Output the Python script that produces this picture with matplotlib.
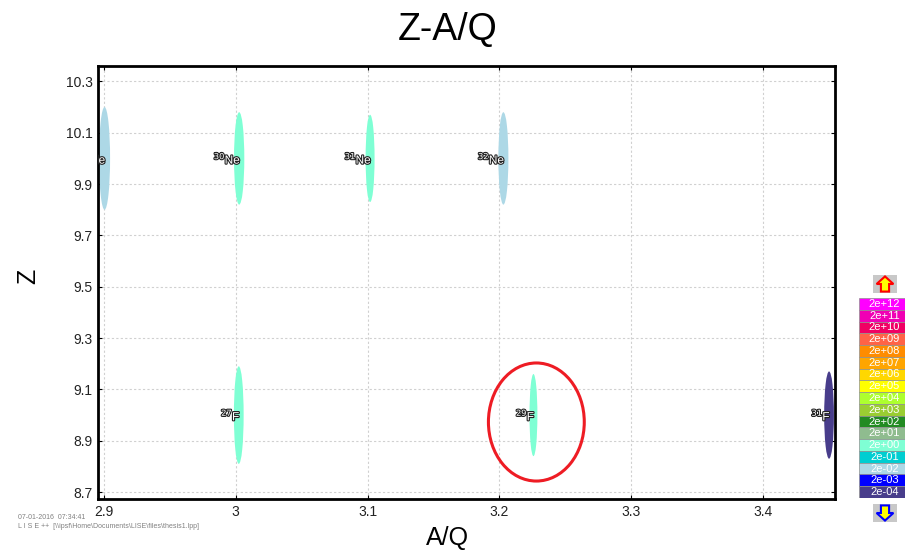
import numpy as np
import matplotlib
matplotlib.use("Agg")
import matplotlib.pyplot as plt
from matplotlib.patches import Ellipse, Polygon
import matplotlib.patheffects as pe

plt.rcParams['font.family'] = ['Liberation Sans', 'DejaVu Sans']

# nuclei: mass number, element, A/Q, Z, half height of blob, half width, colour
mass = ["29", "30", "31", "32", "27", "29", "31"]
elem = ["Ne", "Ne", "Ne", "Ne", "F", "F", "F"]
aq = [2.9005, 3.0026, 3.1019, 3.203, 3.0023, 3.2258, 3.450]
zval = [10.0, 10.0, 10.0, 10.0, 9.0, 9.0, 9.0]
half_h = [0.20, 0.18, 0.17, 0.18, 0.19, 0.16, 0.17]
half_w = [0.0042, 0.0039, 0.0034, 0.0038, 0.0037, 0.0030, 0.0037]
blob_col = ["#add8e6", "#7fffd4", "#7fffd4", "#add8e6", "#7fffd4", "#7fffd4", "#483d8b"]

# colour scale on the right
scale_labels = ["2e+12", "2e+11", "2e+10", "2e+09", "2e+08", "2e+07", "2e+06", "2e+05",
                "2e+04", "2e+03", "2e+02", "2e+01", "2e+00", "2e-01", "2e-02", "2e-03", "2e-04"]
scale_colors = ["#ff00ff", "#f000b4", "#f00064", "#ff6347", "#ff8c00", "#ffa500", "#ffd700",
                "#ffff00", "#adff2f", "#9acd32", "#228b22", "#8fbc8f", "#7fffd4", "#00ced1",
                "#add8e6", "#0000ff", "#483d8b"]

xticks = [2.9, 3.0, 3.1, 3.2, 3.3, 3.4]
xtick_labels = ["2.9", "3", "3.1", "3.2", "3.3", "3.4"]
yticks = [8.7, 8.9, 9.1, 9.3, 9.5, 9.7, 9.9, 10.1, 10.3]

fig = plt.figure(figsize=(9.07, 5.5), dpi=100)
ax = fig.add_axes([0.108, 0.0927, 0.8126, 0.7873])

for i in range(len(aq)):
    ax.add_patch(Ellipse((aq[i], zval[i]), 2 * half_w[i], 2 * half_h[i],
                         facecolor=blob_col[i], edgecolor="none", zorder=2))
    t = ax.text(aq[i] + 0.0015, zval[i], r"$^{%s}$%s" % (mass[i], elem[i]),
                ha="right", va="center", fontsize=8.5, color="white", zorder=4,
                clip_on=True)
    t.set_path_effects([pe.withStroke(linewidth=1.6, foreground="#222222")])

# red circle around 29F
ax.add_patch(Ellipse((3.228, 8.973), 0.0727, 0.46, facecolor="none",
                     edgecolor="#ee1c24", lw=2.2, zorder=5))

ax.set_xlim(2.8955, 3.4545)
ax.set_ylim(8.673, 10.36)
ax.set_xticks(xticks)
ax.set_xticklabels(xtick_labels)
ax.set_yticks(yticks)
ax.set_yticklabels(["%.1f" % v for v in yticks])
ax.tick_params(direction="in", length=3, width=0.8, labelsize=10,
               top=True, right=True, labelcolor="#222222", pad=4)
ax.grid(True, color="#d0d0d0", linestyle=(0, (2, 2)), lw=0.8)
ax.set_axisbelow(True)
for s in ax.spines.values():
    s.set_linewidth(2)
    s.set_color("black")

fig.text(0.494, 0.945, "Z-A/Q", ha="center", va="center", fontsize=27)
fig.text(0.493, 0.022, "A/Q", ha="center", va="center", fontsize=18)
fig.text(0.031, 0.497, "Z", ha="center", va="center", fontsize=18, rotation=90)

fig.text(0.02, 0.057, "07-01-2016  07:34:41", fontsize=5, color="#808080")
fig.text(0.02, 0.040, "L I S E ++  [\\\\ipsf\\Home\\Documents\\LISE\\files\\thesis1.lpp]",
         fontsize=5, color="#808080")

# colour scale
cax = fig.add_axes([859 / 907, 52 / 550, 46 / 907, 200 / 550])
n = len(scale_labels)
cax.barh(np.arange(n)[::-1], 1, height=1, color=scale_colors,
         edgecolor="#909090", lw=0.5)
for i, lab in enumerate(scale_labels):
    cax.text(0.55, n - 1 - i, lab, ha="center", va="center", fontsize=8, color="white")
cax.set_xlim(0, 1)
cax.set_ylim(-0.5, n - 0.5)
cax.axis("off")

# scroll buttons
up = fig.add_axes([873 / 907, 257 / 550, 24 / 907, 18 / 550])
up.set_facecolor("#c8c8c8")
up.add_patch(Polygon([[0.5, 0.92], [0.15, 0.5], [0.33, 0.5], [0.33, 0.08],
                      [0.67, 0.08], [0.67, 0.5], [0.85, 0.5]],
                     facecolor="#ffff00", edgecolor="#ff0000", lw=1.5))
up.set_xlim(0, 1)
up.set_ylim(0, 1)
up.set_xticks([])
up.set_yticks([])
for s in up.spines.values():
    s.set_visible(False)

dn = fig.add_axes([873 / 907, 28 / 550, 24 / 907, 18 / 550])
dn.set_facecolor("#c8c8c8")
dn.add_patch(Polygon([[0.5, 0.08], [0.15, 0.5], [0.33, 0.5], [0.33, 0.92],
                      [0.67, 0.92], [0.67, 0.5], [0.85, 0.5]],
                     facecolor="#ffff00", edgecolor="#0000ff", lw=1.5))
dn.set_xlim(0, 1)
dn.set_ylim(0, 1)
dn.set_xticks([])
dn.set_yticks([])
for s in dn.spines.values():
    s.set_visible(False)

fig.savefig("out.png", dpi=100)
